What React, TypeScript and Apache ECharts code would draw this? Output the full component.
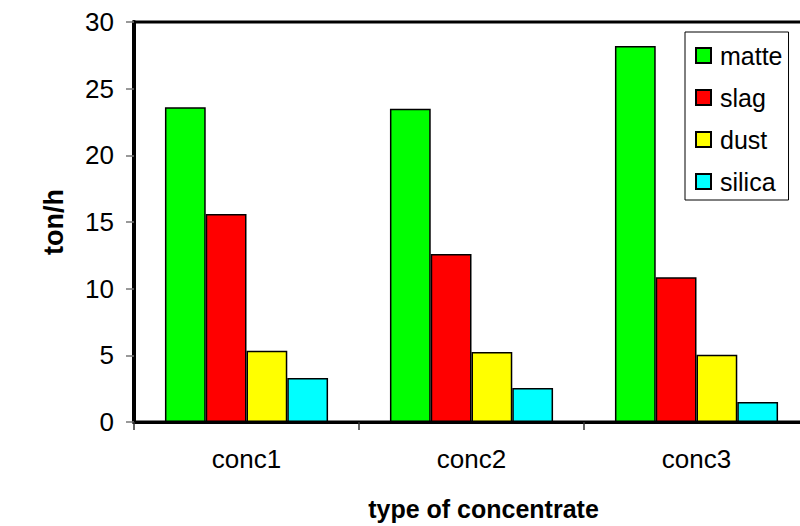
import React, { useEffect, useRef } from "react";
import * as echarts from "echarts";

const categories = ["conc1", "conc2", "conc3"];
const matte = [23.6, 23.5, 28.2];
const slag = [15.6, 12.6, 10.85];
const dust = [5.35, 5.25, 5.05];
const silica = [3.3, 2.55, 1.5];
const yTicks = [0, 5, 10, 15, 20, 25, 30];

const FONT = "'Liberation Sans', Arial, sans-serif";

export default function App() {
  const ref = useRef<HTMLDivElement>(null);
  useEffect(() => {
    if (!ref.current) return;
    const chart = echarts.init(ref.current, undefined, { renderer: "svg" });
    const mk = (name: string, data: number[], color: string) => ({
      name,
      type: "bar",
      data,
      barGap: "0%",
      barCategoryGap: "27.5%",
      itemStyle: { color, borderColor: "#000", borderWidth: 1.5 },
    });
    chart.setOption({
      animation: false,
      backgroundColor: "#fff",
      textStyle: { fontFamily: FONT },
      grid: {
        left: 134,
        top: 22,
        width: 675,
        height: 403,
        show: true,
        borderColor: "#000",
        borderWidth: 3,
        backgroundColor: "transparent",
      },
      legend: {
        orient: "vertical",
        left: 685,
        top: 32,
        padding: [11, 6, 6, 10],
        itemGap: 17,
        itemWidth: 15,
        itemHeight: 15,
        icon: "rect",
        backgroundColor: "#fff",
        borderColor: "#000",
        borderWidth: 1,
        textStyle: {
          fontFamily: FONT,
          fontSize: 25,
          lineHeight: 25,
          color: "#000",
          padding: [0, 0, 0, 4],
        },
        data: ["matte", "slag", "dust", "silica"],
      },
      xAxis: {
        type: "category",
        data: categories,
        boundaryGap: true,
        axisLine: { lineStyle: { color: "#000", width: 3 } },
        axisTick: { show: true, length: 8, lineStyle: { color: "#333", width: 1.5 } },
        axisLabel: { fontFamily: FONT, fontSize: 26, color: "#000", margin: 24 },
        name: "type of concentrate",
        nameLocation: "middle",
        nameGap: 74,
        nameTextStyle: {
          fontFamily: FONT,
          fontSize: 25,
          fontWeight: "bold",
          color: "#000",
          padding: [0, 0, 0, 24],
        },
      },
      yAxis: {
        type: "value",
        min: 0,
        max: 30,
        interval: 5,
        splitLine: { show: false },
        axisLine: { show: true, lineStyle: { color: "#000", width: 4 } },
        axisTick: { show: true, length: 8, lineStyle: { color: "#777", width: 1.5 } },
        axisLabel: {
          fontFamily: FONT,
          fontSize: 26,
          color: "#000",
          margin: 20,
          formatter: (v: number) => (yTicks.includes(v) ? String(v) : ""),
        },
        name: "ton/h",
        nameLocation: "middle",
        nameGap: 67,
        nameRotate: 90,
        nameTextStyle: { fontFamily: FONT, fontSize: 27, fontWeight: "bold", color: "#000" },
      },
      series: [
        mk("matte", matte, "#00ff00"),
        mk("slag", slag, "#ff0000"),
        mk("dust", dust, "#ffff00"),
        mk("silica", silica, "#00ffff"),
      ],
    });
    return () => chart.dispose();
  }, []);
  return (
    <div style={{ width: 800, height: 526, position: "absolute", left: 0, top: 0, overflow: "hidden", background: "#fff" }}>
      <div ref={ref} style={{ width: 820, height: 526 }} />
    </div>
  );
}
